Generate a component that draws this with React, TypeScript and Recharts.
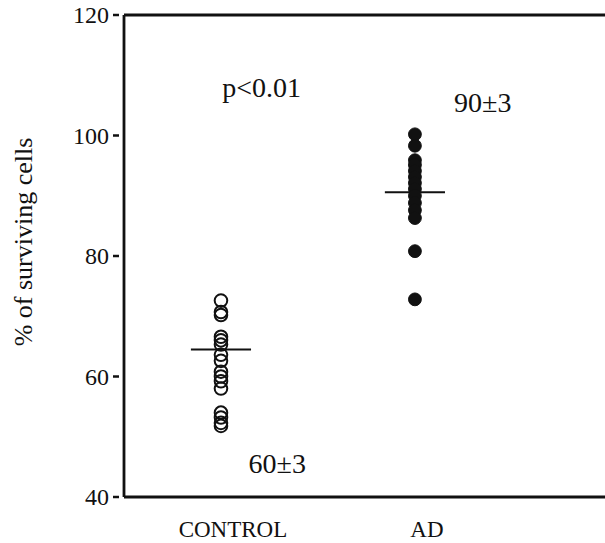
import {
  ReferenceDot,
  ReferenceLine,
  Scatter,
  ScatterChart,
  XAxis,
  YAxis,
} from "recharts";

const groupNames = ["CONTROL", "AD"];
const groupPositions = [1, 2];
const controlValues = [72.6, 70.7, 70.2, 66.6, 66.0, 65.3, 63.6, 62.6, 60.8, 60.0, 59.2, 58.0, 54.0, 53.2, 52.3, 51.8];
const adValues = [100.2, 98.3, 95.9, 95.1, 94.1, 93.1, 92.1, 91.1, 90.0, 88.8, 87.6, 86.3, 80.8, 72.8];
const groupMeans = [64.5, 90.6];
const yTicks = [40, 60, 80, 100, 120];

const font = "'Liberation Serif', 'Times New Roman', serif";
const ink = "#111";
const meanHalfWidth = 0.155;

const controlData = controlValues.map((y) => ({ x: groupPositions[0], y }));
const adData = adValues.map((y) => ({ x: groupPositions[1], y }));

const openDot = (p: any) => (
  <circle cx={p.cx} cy={p.cy} r={6.3} fill="#fff" fillOpacity={0} stroke={ink} strokeWidth={2} />
);
const filledDot = (p: any) => <circle cx={p.cx} cy={p.cy} r={6.4} fill={ink} stroke={ink} strokeWidth={1} />;

const YTick = (p: any) => (
  <g>
    <line x1={p.x - 11} x2={p.x - 5} y1={p.y} y2={p.y} stroke={ink} strokeWidth={2.5} />
    <text x={p.x - 15} y={p.y} dy={8} textAnchor="end" fontFamily={font} fontSize={24} fill={ink}>
      {p.payload.value}
    </text>
  </g>
);

const XTick = (p: any) => {
  const i = groupPositions.indexOf(p.payload.value);
  return (
    <text x={p.x} y={p.y + 38} dx={12} textAnchor="middle" fontFamily={font} fontSize={23} fill={ink}>
      {groupNames[i]}
    </text>
  );
};

const note = (text: string) => (props: any) => (
  <text x={props.viewBox.x} y={props.viewBox.y} dy={10} textAnchor="middle" fontFamily={font} fontSize={28} fill={ink}>
    {text}
  </text>
);

export default function App() {
  return (
    <div style={{ position: "absolute", left: 0, top: 0, width: 605, height: 543, background: "#fff", overflow: "hidden" }}>
      <ScatterChart width={605} height={543} margin={{ top: 15, right: 0, bottom: 0, left: 0 }}>
        <XAxis
          type="number"
          dataKey="x"
          domain={[0.5, 2.98]}
          ticks={groupPositions}
          height={46}
          axisLine={{ stroke: ink, strokeWidth: 2.8 }}
          tickLine={false}
          tickSize={0}
          tick={<XTick />}
        />
        <YAxis
          type="number"
          dataKey="y"
          domain={[40, 120]}
          ticks={yTicks}
          width={124}
          axisLine={{ stroke: ink, strokeWidth: 2.8 }}
          tickLine={false}
          tickSize={0}
          tickMargin={0}
          tick={<YTick />}
          label={{
            content: () => (
              <text
                transform="translate(32,242) rotate(-90)"
                textAnchor="middle"
                fontFamily={font}
                fontSize={26}
                fill={ink}
              >
                % of surviving cells
              </text>
            ),
          }}
        />
        <ReferenceLine y={120} stroke={ink} strokeWidth={2.8} />
        {groupPositions.map((g, i) => (
          <ReferenceLine
            key={g}
            segment={[
              { x: g - meanHalfWidth, y: groupMeans[i] },
              { x: g + meanHalfWidth, y: groupMeans[i] },
            ]}
            stroke={ink}
            strokeWidth={2}
          />
        ))}
        <Scatter data={controlData} shape={openDot} isAnimationActive={false} />
        <Scatter data={adData} shape={filledDot} isAnimationActive={false} />
        <ReferenceDot x={1.21} y={108} r={0} fill="none" stroke="none" label={{ content: note("p<0.01") }} />
        <ReferenceDot x={2.35} y={105.6} r={0} fill="none" stroke="none" label={{ content: note("90±3") }} />
        <ReferenceDot x={1.29} y={45.6} r={0} fill="none" stroke="none" label={{ content: note("60±3") }} />
      </ScatterChart>
    </div>
  );
}
